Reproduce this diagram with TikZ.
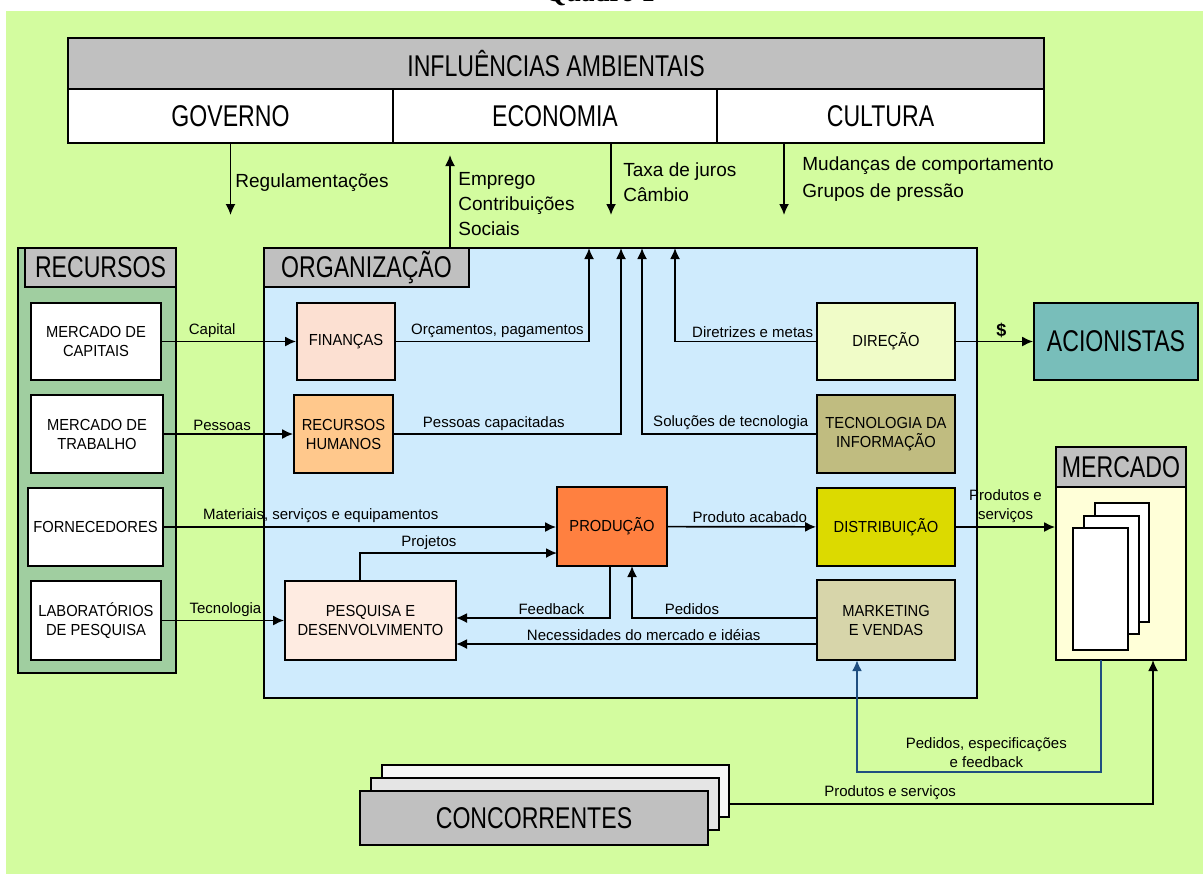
\documentclass[tikz,border=0pt]{standalone}
\usepackage{fontspec}
\setmainfont{Liberation Sans}
\newfontfamily\condf{Liberation Sans}[FakeStretch=0.77]
\newfontfamily\boxf{Liberation Sans}[FakeStretch=0.92]
\newfontfamily\titlef{Liberation Serif}
\usetikzlibrary{arrows.meta}

\definecolor{bggreen}{RGB}{211,252,159}
\definecolor{recgreen}{RGB}{160,206,160}
\definecolor{hdrgrey}{RGB}{192,192,192}
\definecolor{orgblue}{RGB}{207,235,253}
\definecolor{finpeach}{RGB}{252,224,210}
\definecolor{rhorange}{RGB}{255,200,140}
\definecolor{prodorange}{RGB}{255,128,64}
\definecolor{pedpeach}{RGB}{254,235,225}
\definecolor{dirlight}{RGB}{240,252,200}
\definecolor{tiolive}{RGB}{192,188,128}
\definecolor{distyellow}{RGB}{220,218,0}
\definecolor{mktkhaki}{RGB}{215,213,170}
\definecolor{aciteal}{RGB}{120,190,186}
\definecolor{mercyellow}{RGB}{255,255,216}
\definecolor{linkblue}{RGB}{31,78,128}

\tikzset{
  box/.style={draw, line width=0.9pt, inner sep=1pt, align=center,
    font=\boxf\fontsize{8}{9.5}\selectfont},
  big/.style={font=\condf\fontsize{15}{18}\selectfont},
  lbl/.style={font=\fontsize{7.5}{9.5}\selectfont, inner sep=1.5pt},
  toplbl/.style={font=\fontsize{9.5}{12.5}\selectfont, align=left, anchor=west, inner sep=0pt},
  arr/.style={-{Latex[length=5.5pt,width=5pt]}, line width=0.85pt},
}

\begin{document}
\begin{tikzpicture}[x=0.5pt, y=-0.5pt]
  \useasboundingbox (0,0) rectangle (1203,874);
  \fill[bggreen] (6,11) rectangle (1203,874);
  \node[anchor=base, font=\titlef\bfseries\fontsize{13.5}{16}\selectfont] (quadro) at (600,1) {Quadro 1};

  % influencias ambientais
  \node[box, big, fill=hdrgrey, minimum width=488pt, minimum height=25.5pt] (infl) at (556,63.5) {INFLUÊNCIAS AMBIENTAIS};
  \node[box, big, fill=white, minimum width=162.5pt, minimum height=27pt] (gov) at (230.5,116) {GOVERNO};
  \node[box, big, fill=white, minimum width=162pt, minimum height=27pt] (eco) at (555,116) {ECONOMIA};
  \node[box, big, fill=white, minimum width=163.5pt, minimum height=27pt] (cul) at (880.5,116) {CULTURA};

  % recursos
  \node[draw, line width=0.9pt, fill=recgreen, minimum width=79pt, minimum height=212.5pt, inner sep=0pt] (rec) at (97,460.5) {};
  \node[box, big, fill=hdrgrey, minimum width=75.5pt, minimum height=19.5pt] (rechd) at (100.5,267.5) {RECURSOS};
  \node[box, fill=white, minimum width=65pt, minimum height=38.5pt] (mcap) at (96,341.5) {MERCADO DE\\CAPITAIS};
  \node[box, fill=white, minimum width=66pt, minimum height=39pt] (mtrab) at (97,434) {MERCADO DE\\TRABALHO};
  \node[box, fill=white, minimum width=67.5pt, minimum height=39pt] (forn) at (95.5,527) {FORNECEDORES};
  \node[box, fill=white, minimum width=65pt, minimum height=39.5pt] (lab) at (96,620.5) {LABORATÓRIOS\\DE PESQUISA};

  % organizacao
  \node[draw, line width=0.9pt, fill=orgblue, minimum width=356.5pt, minimum height=225pt, inner sep=0pt] (org) at (620.5,473) {};
  \node[box, big, fill=hdrgrey, minimum width=102.5pt, minimum height=19.5pt] (orghd) at (366.5,267.5) {ORGANIZAÇÃO};
  \node[box, fill=finpeach, minimum width=49pt, minimum height=38.5pt] (fin) at (346,341.5) {FINANÇAS};
  \node[box, fill=rhorange, minimum width=49.5pt, minimum height=39pt] (rh) at (343.5,434) {RECURSOS\\HUMANOS};
  \node[box, fill=prodorange, minimum width=55pt, minimum height=39.5pt] (prod) at (612,526.5) {PRODUÇÃO};
  \node[box, fill=pedpeach, minimum width=85.5pt, minimum height=39.5pt] (ped) at (370.5,620.5) {PESQUISA E\\DESENVOLVIMENTO};
  \node[box, fill=dirlight, minimum width=69pt, minimum height=38.5pt] (dir) at (886,341.5) {DIREÇÃO};
  \node[box, fill=tiolive, minimum width=69pt, minimum height=39pt] (ti) at (886,434) {TECNOLOGIA DA\\INFORMAÇÃO};
  \node[box, fill=distyellow, minimum width=69pt, minimum height=39pt] (dist) at (886,527) {DISTRIBUIÇÃO};
  \node[box, fill=mktkhaki, minimum width=69pt, minimum height=40pt] (mkt) at (886,620) {MARKETING\\E VENDAS};

  % acionistas, mercado, concorrentes
  \node[box, big, fill=aciteal, minimum width=82pt, minimum height=38.5pt] (acion) at (1116,341.5) {ACIONISTAS};
  \node[box, fill=mercyellow, minimum width=65pt, minimum height=86.5pt] (merc) at (1121,573.5) {};
  \node[box, big, fill=hdrgrey, minimum width=65pt, minimum height=20pt] (merchd) at (1121,467) {MERCADO};
  \draw[fill=white, line width=0.9pt] (1095,503) rectangle (1149,622);
  \draw[fill=white, line width=0.9pt] (1084,516) rectangle (1139,634);
  \draw[fill=white, line width=0.9pt] (1073,528) rectangle (1128,650);
  \draw[fill=black!3, line width=0.9pt] (382,765) rectangle (729,817);
  \draw[fill=black!10, line width=0.9pt] (371,778) rectangle (719,830);
  \node[box, big, fill=hdrgrey, minimum width=174pt, minimum height=27pt] (conc) at (534,818) {CONCORRENTES};

  % named ends
  \coordinate (regend) at (230.5,215);
  \coordinate (empb) at (450,248);
  \coordinate (empt) at (450,155);
  \coordinate (taxb) at (611,143);
  \coordinate (taxe) at (611,215);
  \coordinate (culb) at (784,143);
  \coordinate (cule) at (784,215);
  \coordinate (o1) at (589,248);
  \coordinate (o2) at (621,248);
  \coordinate (o3) at (642,248);
  \coordinate (o4) at (675,248);
  \coordinate (projb) at (360,581);
  \coordinate (projt) at (557,553);
  \coordinate (fb1) at (610,566);
  \coordinate (fb2) at (456,618);
  \coordinate (pd1) at (817,618);
  \coordinate (pd2) at (632,566);
  \coordinate (nec1) at (817,644);
  \coordinate (nec2) at (456,644);
  \coordinate (mb1) at (1101,660);
  \coordinate (blc) at (857,772);
  \coordinate (mk2) at (857,660);
  \coordinate (cc1) at (729,804);
  \coordinate (mc2) at (1153,660);

  % ambiente
  \draw[arr] (gov.south) -- (regend);
  \draw[arr] (empb) -- (empt);
  \draw[arr] (taxb) -- (taxe);
  \draw[arr] (culb) -- (cule);
  \node[toplbl] (reglbl) at (235,183) {Regulamentações};
  \node[toplbl] (emplbl) at (458,204) {Emprego\\Contribuições\\Sociais};
  \node[toplbl] (taxlbl) at (623,182.5) {Taxa de juros\\Câmbio};
  \node[toplbl, font=\fontsize{9.5}{13.5}\selectfont] (cullbl) at (802,179.5) {Mudanças de comportamento\\Grupos de pressão};

  % fluxos
  \draw[arr] (mcap) -- (fin) node[lbl, above, pos=.375] {Capital};
  \draw[arr] (mtrab) -- (rh) node[lbl, above, pos=.45] {Pessoas};
  \draw[arr] (forn) -- (forn -| prod.west) node[lbl, above, pos=.40] {Materiais, serviços e equipamentos};
  \draw[arr] (lab) -- (ped) node[lbl, above, pos=.52] {Tecnologia};
  \draw[arr] (projb) |- (projt) node[lbl, above, pos=.675] {Projetos};
  \draw[arr] (fin) -| (o1) node[lbl, above, pos=.263] {Orçamentos, pagamentos};
  \draw[arr] (rh) -| (o2) node[lbl, above, pos=.22] {Pessoas capacitadas};
  \draw[arr] (ti) -| (o3) node[lbl, above, pos=.245] {Soluções de tecnologia};
  \draw[arr] (dir) -| (o4) node[lbl, above, pos=.225] {Diretrizes e metas};
  \draw[arr] (dir) -- (acion) node[lbl, above, pos=.59, font=\fontsize{9}{10}\selectfont\bfseries] {\$};
  \draw[arr] (prod) -- (dist) node[lbl, above, pos=.553] {Produto acabado};
  \draw[arr] (dist) -- (dist -| merc.west) node[lbl, above, midway, align=center] {Produtos e\\serviços};
  \draw[arr] (fb1) |- (fb2) node[lbl, above, pos=.69] {Feedback};
  \draw[arr] (pd1) -| (pd2) node[lbl, above, pos=.338] {Pedidos};
  \draw[arr] (nec1) -- (nec2) node[lbl, above, pos=.48] {Necessidades do mercado e idéias};
  \draw[arr, linkblue, line width=1.2pt] (mb1) |- (blc) node[lbl, above, pos=.735, align=center, text=black] {Pedidos, especificações\\e feedback} -- (mk2);
  \draw[arr] (cc1) -| (mc2) node[lbl, above, pos=.19] {Produtos e serviços};
\end{tikzpicture}
\end{document}
